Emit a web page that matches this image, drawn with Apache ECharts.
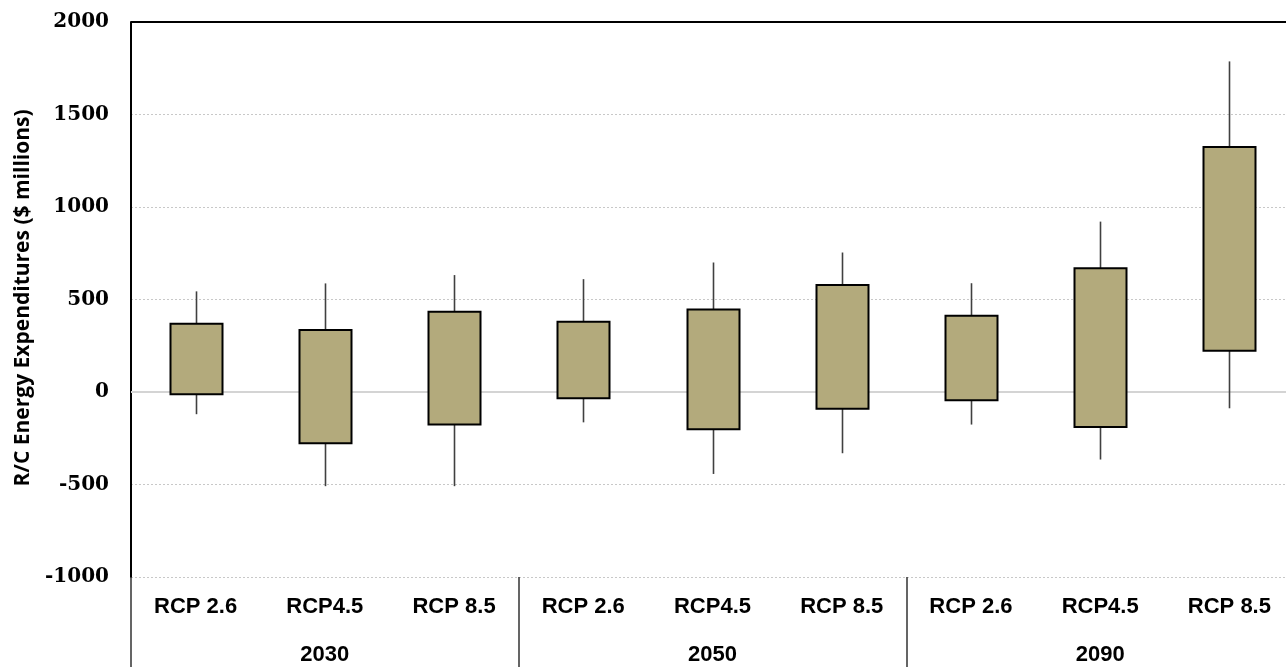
<!DOCTYPE html>
<html>
<head>
<meta charset="utf-8">
<script src="https://cdn.jsdelivr.net/npm/echarts@6/dist/echarts.min.js"></script>
<style>
html,body{margin:0;padding:0;background:#fff;overflow:hidden;width:1286px;height:667px;}
#chart{width:1300px;height:667px;}
</style>
</head>
<body>
<div id="chart"></div>
<script>
var scenarios = ['RCP 2.6','RCP4.5','RCP 8.5','RCP 2.6','RCP4.5','RCP 8.5','RCP 2.6','RCP4.5','RCP 8.5'];
var years = ['2030','2050','2090'];
var minVals = [-120, -509, -509, -164, -443, -331, -176, -365, -88];
var q1Vals  = [-12, -277, -176, -34, -202, -90, -45, -189, 223];
var q3Vals  = [369, 335, 434, 380, 446, 579, 412, 669, 1325];
var maxVals = [544, 587, 632, 610, 700, 754, 588, 921, 1787];
var yTicks = [-1000, -500, 0, 500, 1000, 1500, 2000];

var boxData = scenarios.map(function(s, i){
  return [i, minVals[i], q1Vals[i], q3Vals[i], maxVals[i]];
});

var chart = echarts.init(document.getElementById('chart'), null, {renderer:'canvas'});

var option = {
  animation: false,
  backgroundColor: '#ffffff',
  grid: {left: 131, top: 22, width: 1163, height: 555, show: false},
  graphic: [{
    type: 'text',
    rotation: Math.PI/2,
    position: [23, 298],
    style: {
      text: 'R/C Energy Expenditures ($ millions)',
      font: 'bold 21px "Open Sans"',
      fill: '#000',
      textAlign: 'center',
      textVerticalAlign: 'middle'
    }
  }],
  xAxis: [{
    type: 'category',
    data: scenarios,
    position: 'bottom',
    boundaryGap: true,
    axisLine: {show: true, lineStyle: {color: '#000', width: 2}},
    axisTick: {show: false},
    axisLabel: {
      interval: 0, margin: 19,
      color: '#000', fontFamily: 'Liberation Sans', fontWeight: 'bold', fontSize: 22
    },
    splitLine: {show: false}
  }, {
    type: 'category',
    data: years,
    position: 'bottom',
    boundaryGap: true,
    axisLine: {show: false},
    axisTick: {show: true, length: 92, lineStyle: {color: '#333', width: 1.5}},
    axisLabel: {
      interval: 0, margin: 67,
      color: '#000', fontFamily: 'Liberation Sans', fontWeight: 'bold', fontSize: 22
    },
    splitLine: {show: false}
  }],
  yAxis: {
    type: 'value',
    min: -1000, max: 2000, interval: 500,
    axisLine: {show: true, lineStyle: {color: '#000', width: 2}},
    axisTick: {show: false},
    axisLabel: {
      margin: 22, color: '#000',
      fontFamily: 'DejaVu Serif', fontWeight: 'bold', fontSize: 20,
      formatter: function(v){ return yTicks.indexOf(v) >= 0 ? String(v) : ''; }
    },
    splitLine: {show: true, lineStyle: {color: '#c8c8c8', type: [2, 2], width: 1}}
  },
  series: [{
    type: 'line',
    data: [],
    z: 1,
    markLine: {
      silent: true,
      symbol: 'none',
      label: {show: false},
      lineStyle: {color: '#d4d4d4', type: 'solid', width: 2},
      data: [{yAxis: 0}]
    }
  }, {
    type: 'line',
    data: [],
    z: 1,
    markLine: {
      silent: true,
      symbol: 'none',
      label: {show: false},
      lineStyle: {color: '#000', type: 'solid', width: 2},
      data: [{yAxis: 2000}]
    }
  }, {
    type: 'custom',
    z: 5,
    data: boxData,
    encode: {x: 0, y: [1, 2, 3, 4]},
    renderItem: function(params, api){
      var idx = api.value(0);
      var pMin = api.coord([idx, api.value(1)]);
      var pQ1 = api.coord([idx, api.value(2)]);
      var pQ3 = api.coord([idx, api.value(3)]);
      var pMax = api.coord([idx, api.value(4)]);
      var w = 52;
      var cx = Math.round(pQ1[0]) + 0.5;
      return {
        type: 'group',
        children: [{
          type: 'line',
          shape: {x1: cx, y1: pMax[1], x2: cx, y2: pQ3[1]},
          style: {stroke: '#404040', lineWidth: 1.6}
        }, {
          type: 'line',
          shape: {x1: cx, y1: pQ1[1], x2: cx, y2: pMin[1]},
          style: {stroke: '#404040', lineWidth: 1.6}
        }, {
          type: 'rect',
          shape: {x: cx - w/2, y: pQ3[1], width: w, height: pQ1[1] - pQ3[1]},
          style: {fill: '#b3aa7c', stroke: '#000', lineWidth: 2}
        }]
      };
    }
  }]
};
chart.setOption(option);
</script>
</body>
</html>
